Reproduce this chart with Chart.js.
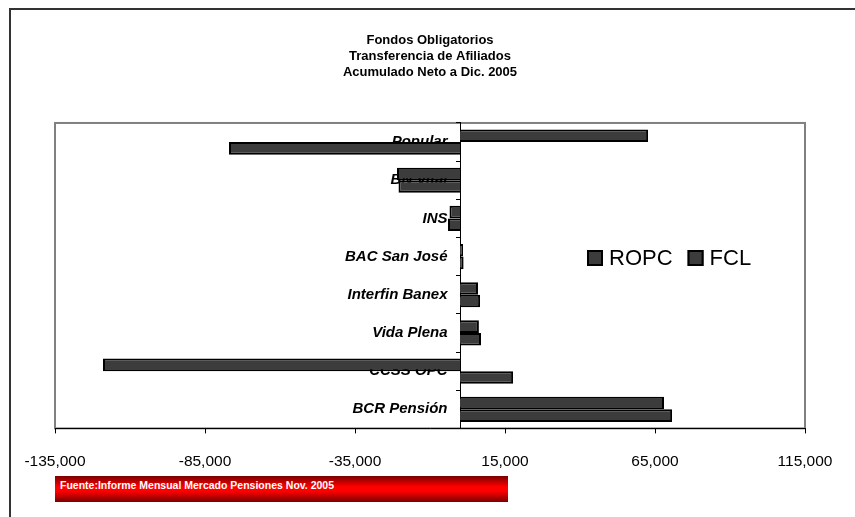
<!DOCTYPE html>
<html>
<head>
<meta charset="utf-8">
<script src="https://cdn.jsdelivr.net/npm/chart.js@4"></script>
<style>
  body { margin: 0; background: #fff; }
  #wrap { position: relative; width: 855px; height: 517px; overflow: hidden; }
  #frame { position: absolute; left: 9px; top: 8px; width: 900px; height: 600px;
           border-left: 2px solid #333; border-top: 2px solid #333; }
  #source { position: absolute; left: 55px; top: 476px; width: 453px; height: 26px;
            background: linear-gradient(#7a0000, #ff0000 42%, #ff0000 58%, #7a0000);
            color: #fff; font: bold 10.5px Arial, 'Liberation Sans', sans-serif;
            line-height: 19px; padding-left: 5px; box-sizing: border-box; }
  canvas { position: absolute; left: 0; top: 0; }
</style>
</head>
<body>
<div id="wrap">
  <div id="frame"></div>
  <canvas id="barChart" width="855" height="517"></canvas>
  <div id="source">Fuente:Informe Mensual Mercado Pensiones Nov. 2005</div>
</div>
<script>
// categories, top to bottom
const funds = ['Popular', 'BN Vital', 'INS', 'BAC San José', 'Interfin Banex', 'Vida Plena', 'CCSS OPC', 'BCR Pensión'];
// net accumulated transfers per fund
const ropc = [-77000, -20500, -4000, 1200, 6700, 7000, 17700, 70700];
const fcl = [62700, -21000, -3500, 1000, 6000, 6300, -119000, 68000];
const xTicks = [-135000, -85000, -35000, 15000, 65000, 115000];

const font = "Arial, 'Liberation Sans', sans-serif";

// grey frame round the plot area
const plotFrame = {
  id: 'plotFrame',
  beforeDraw(chart) {
    const a = chart.chartArea, c = chart.ctx;
    c.save();
    c.strokeStyle = '#808080';
    c.lineWidth = 2;
    c.strokeRect(a.left, a.top, a.right - a.left, a.bottom - a.top);
    c.restore();
  }
};

// legend sits inside the plot, Excel style
const insideLegend = {
  id: 'insideLegend',
  afterDraw(chart) {
    const c = chart.ctx;
    const order = ['ROPC', 'FCL'];
    let x = 587;
    const y = 258;
    c.save();
    c.font = '22px ' + font;
    c.textBaseline = 'middle';
    order.forEach(name => {
      const ds = chart.data.datasets.find(d => d.label === name);
      c.fillStyle = ds.backgroundColor;
      c.fillRect(x, y - 8, 16, 16);
      c.strokeStyle = '#000';
      c.lineWidth = 2;
      c.strokeRect(x + 1, y - 7, 14, 14);
      c.fillStyle = '#000';
      c.fillText(name, x + 22, y + 1);
      x += 22 + c.measureText(name).width + 15;
    });
    c.restore();
  }
};

const ctx = document.getElementById('barChart').getContext('2d');
new Chart(ctx, {
  type: 'bar',
  data: {
    labels: funds,
    datasets: [
      { label: 'FCL', data: fcl, backgroundColor: '#3c3c3c', borderColor: '#000', borderWidth: 2 },
      { label: 'ROPC', data: ropc, backgroundColor: '#3c3c3c', borderColor: '#000', borderWidth: 2 }
    ]
  },
  options: {
    indexAxis: 'y',
    responsive: false,
    animation: false,
    categoryPercentage: 0.66,
    barPercentage: 1,
    layout: { padding: { left: 55, right: 50, top: 0, bottom: 27 } },
    plugins: {
      legend: { display: false },
      tooltip: { enabled: false },
      title: {
        display: true,
        text: ['Fondos Obligatorios', 'Transferencia de Afiliados', 'Acumulado Neto a Dic. 2005'],
        color: '#000',
        font: { family: font, size: 13, weight: 'bold', lineHeight: 1.23 },
        padding: { top: 32, bottom: 43 }
      }
    },
    scales: {
      x: {
        min: xTicks[0],
        max: xTicks[xTicks.length - 1],
        afterBuildTicks(scale) { scale.ticks = xTicks.map(v => ({ value: v })); },
        grid: { drawOnChartArea: false, tickLength: 5, color: '#000' },
        border: { color: '#000', width: 1 },
        ticks: {
          padding: 19,
          color: '#000',
          maxRotation: 0,
          font: { family: font, size: 15.5 },
          callback: v => v.toLocaleString('en-US')
        }
      },
      y: {
        position: { x: 0 },
        z: 1,
        offset: true,
        grid: { drawOnChartArea: false, offset: true, tickLength: 4, color: '#000' },
        border: { color: '#000', width: 1 },
        ticks: {
          color: '#000',
          font: { family: font, size: 15, weight: 'bold', style: 'italic' },
          // keep a gap between the labels and the zero line
          callback(v) { return this.getLabelForValue(v) + '   '; }
        }
      }
    }
  },
  plugins: [plotFrame, insideLegend]
});
</script>
</body>
</html>
